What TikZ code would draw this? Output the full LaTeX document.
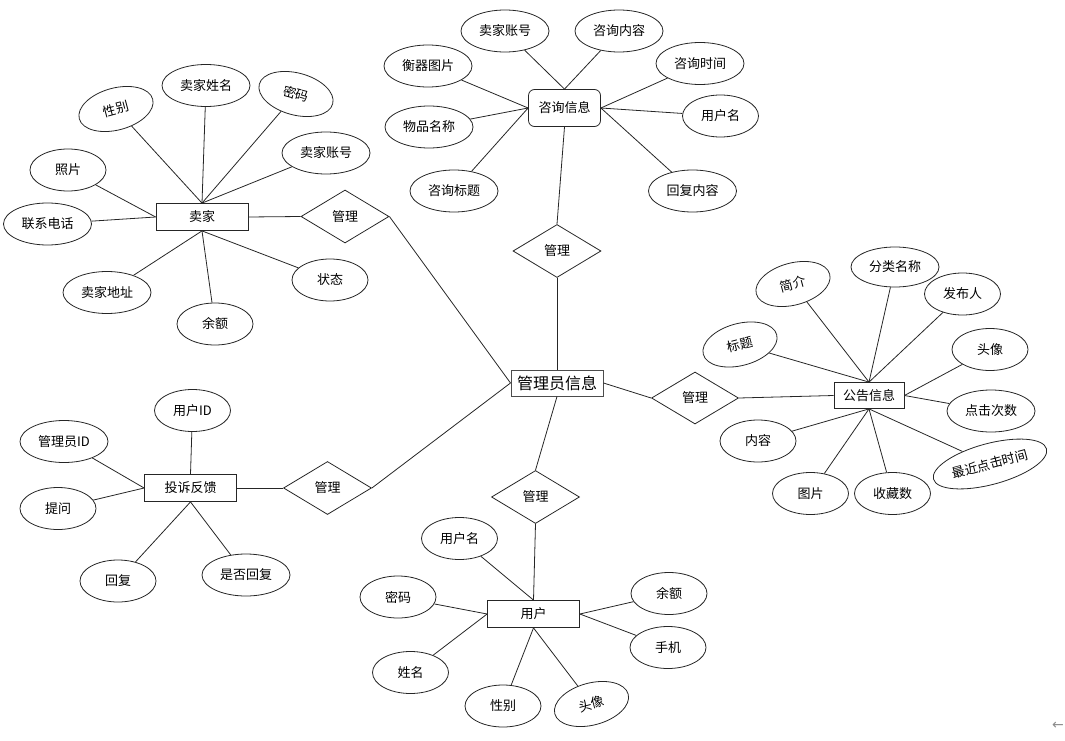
\documentclass[tikz,border=0pt]{standalone}
\usepackage{fontspec}
\setmainfont{Noto Sans CJK SC}
\newfontfamily\symfont{DejaVu Sans}
\usetikzlibrary{shapes.geometric}
\begin{document}
\begin{tikzpicture}[x=1pt,y=-1pt,
  every node/.style={font=\fontsize{13}{15}\selectfont, inner sep=0pt},
  attr/.style={draw=black!85, line width=0.8pt, ellipse, minimum width=76pt, minimum height=42pt},
  wattr/.style={attr, minimum width=88pt},
  ent/.style={draw=black!85, line width=0.8pt, rectangle, minimum width=92pt, minimum height=27pt},
  rel/.style={draw=black!85, line width=0.8pt, diamond, aspect=2, minimum width=88pt, minimum height=53pt},
  conn/.style={draw=black!85, line width=0.8pt}]
\useasboundingbox (0,0) rectangle (1065,741);
% seller
\node[ent] (seller) at (202,217) {卖家};
\node[attr, rotate=15] (s-sex) at (116,109) {性别};
\node[wattr] (s-name) at (206,85.5) {卖家姓名};
\node[attr, rotate=-15] (s-pwd) at (296,94) {密码};
\node[wattr] (s-acc) at (326,153) {卖家账号};
\node[attr] (s-photo) at (68,170) {照片};
\node[wattr] (s-tel) at (47.5,224) {联系电话};
\node[wattr] (s-addr) at (107,292.5) {卖家地址};
\node[attr] (s-bal) at (215,324) {余额};
\node[attr] (s-state) at (330,280) {状态};
\node[rel] (r-seller) at (345,216.5) {管理};
% consult
\node[ent, rounded corners=6pt, minimum width=72pt, minimum height=37pt] (consult) at (564.5,108) {咨询信息};
\node[wattr] (c-acc) at (505,31) {卖家账号};
\node[wattr] (c-content) at (619,31) {咨询内容};
\node[wattr] (c-img) at (428,66) {衡器图片};
\node[wattr] (c-time) at (700,63.5) {咨询时间};
\node[wattr] (c-name) at (429,127) {物品名称};
\node[attr] (c-user) at (720.5,116) {用户名};
\node[wattr] (c-title) at (454,191) {咨询标题};
\node[wattr] (c-reply) at (692.5,191) {回复内容};
\node[rel] (r-consult) at (557,251) {管理};
% admin
\node[ent, font=\fontsize{16}{18}\selectfont, draw=black!70, line width=1pt, minimum height=26pt] (admin) at (557,383) {管理员信息};
% notice
\node[ent, minimum width=70pt, minimum height=26pt] (notice) at (869,395.5) {公告信息};
\node[rel, minimum width=87pt, minimum height=52pt] (r-notice) at (695,398) {管理};
\node[attr, rotate=15] (n-intro) at (793,284) {简介};
\node[wattr, minimum height=40pt] (n-cat) at (895,267) {分类名称};
\node[attr] (n-pub) at (962.5,294) {发布人};
\node[attr, rotate=15] (n-title) at (740,344.5) {标题};
\node[attr] (n-avatar) at (990,349.5) {头像};
\node[wattr] (n-clicks) at (991,411) {点击次数};
\node[attr] (n-content) at (758,441) {内容};
\node[attr, rotate=15, minimum width=117pt, minimum height=41pt] (n-last) at (990,464) {最近点击时间};
\node[attr] (n-img) at (810.5,493.5) {图片};
\node[attr] (n-fav) at (892.5,493.5) {收藏数};
% complaint
\node[ent] (comp) at (190.5,488) {投诉反馈};
\node[rel] (r-comp) at (327.5,488) {管理};
\node[attr] (p-uid) at (192.5,410.5) {用户ID};
\node[wattr] (p-aid) at (64,441.5) {管理员ID};
\node[attr] (p-ask) at (58,508.5) {提问};
\node[attr] (p-reply) at (118,581) {回复};
\node[wattr] (p-isr) at (246,575) {是否回复};
% user
\node[ent] (user) at (533.5,614) {用户};
\node[rel] (r-user) at (535.5,497) {管理};
\node[attr] (u-name) at (459.5,538.5) {用户名};
\node[attr] (u-pwd) at (398,597) {密码};
\node[attr] (u-rname) at (410.5,672.5) {姓名};
\node[attr] (u-sex) at (503,706) {性别};
\node[attr, rotate=15] (u-avatar) at (591.5,704) {头像};
\node[attr] (u-bal) at (669,593.5) {余额};
\node[attr] (u-phone) at (668,647.5) {手机};
% back arrow
\node[text=black!45, font=\symfont\fontsize{14}{14}\selectfont] (back) at (1058,726) {←};
% connectors
\foreach \a in {s-sex,s-name,s-pwd,s-acc} \draw[conn] (\a) -- (seller.north);
\foreach \a in {s-photo,s-tel} \draw[conn] (\a) -- (seller.west);
\foreach \a in {s-addr,s-bal,s-state} \draw[conn] (\a) -- (seller.south);
\draw[conn] (seller.east) -- (r-seller.west);
\draw[conn] (r-seller.east) -- (admin.west);
\foreach \a in {c-acc,c-content} \draw[conn] (\a) -- (consult.north);
\foreach \a in {c-img,c-name,c-title} \draw[conn] (\a) -- (consult.west);
\foreach \a in {c-time,c-user,c-reply} \draw[conn] (\a) -- (consult.east);
\draw[conn] (consult.south) -- (r-consult.north);
\draw[conn] (r-consult.south) -- (admin.north);
\draw[conn] (admin.east) -- (r-notice.west);
\draw[conn] (r-notice.east) -- (notice.west);
\foreach \a in {n-intro,n-cat,n-pub,n-title} \draw[conn] (\a) -- (notice.north);
\foreach \a in {n-avatar,n-clicks} \draw[conn] (\a) -- (notice.east);
\foreach \a in {n-content,n-img,n-fav,n-last} \draw[conn] (\a) -- (notice.south);
\draw[conn] (p-uid) -- (comp.north);
\foreach \a in {p-aid,p-ask} \draw[conn] (\a) -- (comp.west);
\foreach \a in {p-reply,p-isr} \draw[conn] (\a) -- (comp.south);
\draw[conn] (comp.east) -- (r-comp.west);
\draw[conn] (r-comp.east) -- (admin.west);
\draw[conn] (admin.south) -- (r-user.north);
\draw[conn] (r-user.south) -- (user.north);
\draw[conn] (u-name) -- (user.north);
\foreach \a in {u-pwd,u-rname} \draw[conn] (\a) -- (user.west);
\foreach \a in {u-sex,u-avatar} \draw[conn] (\a) -- (user.south);
\foreach \a in {u-bal,u-phone} \draw[conn] (\a) -- (user.east);
\end{tikzpicture}
\end{document}
